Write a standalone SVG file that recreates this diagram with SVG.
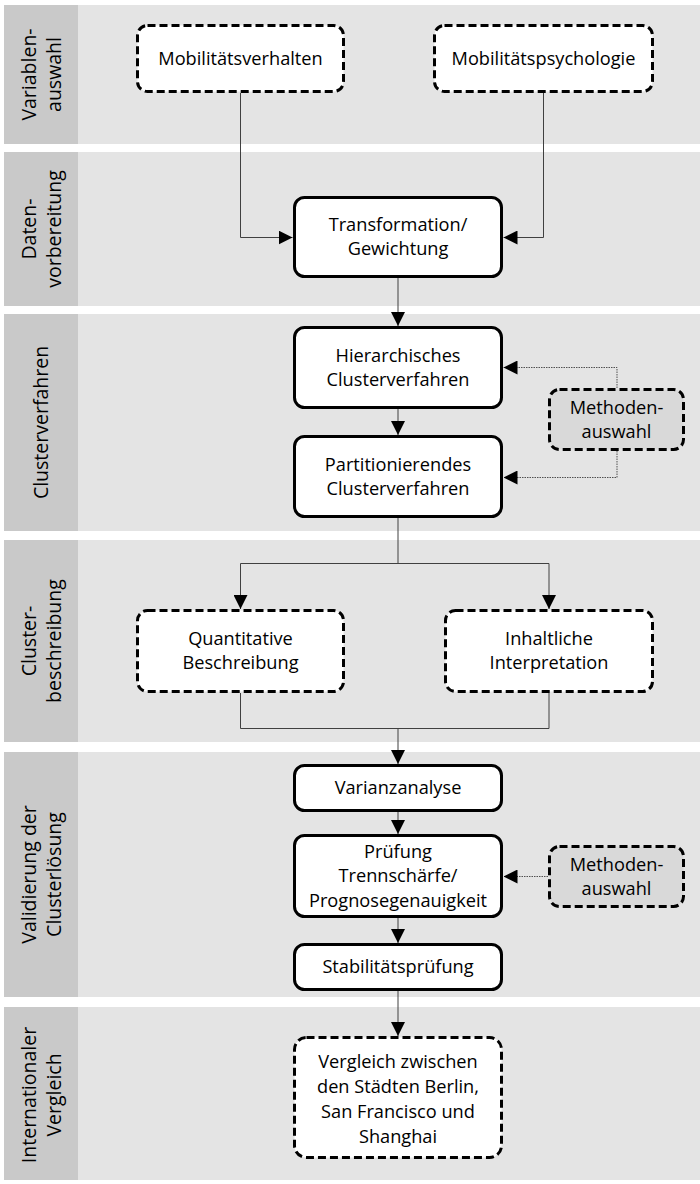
<svg xmlns="http://www.w3.org/2000/svg" width="700" height="1184" viewBox="0 0 700 1184">
<style>
.lane{fill:#e4e4e4}
.strip{fill:#c9c9c9}
.lbl{font-family:"Open Sans","Liberation Sans",sans-serif;font-size:19.5px;fill:#000;text-anchor:middle}
.t{font-family:"Open Sans","Liberation Sans",sans-serif;font-size:18.2px;fill:#000;text-anchor:middle}
.solid{fill:#fff;stroke:#000;stroke-width:3}
.dash{fill:#fff;stroke:#000;stroke-width:3;stroke-dasharray:8 4}
.meth{fill:#d9d9d9;stroke:#000;stroke-width:3;stroke-dasharray:8 4}
.c{fill:none;stroke:#404040;stroke-width:1}
.d{fill:none;stroke:#505050;stroke-width:1;stroke-dasharray:1.5 1}
</style>
<defs>
<marker id="ah" markerUnits="userSpaceOnUse" markerWidth="14" markerHeight="14" refX="14" refY="7" orient="auto">
<path d="M0,0 L14,7 L0,14 z" fill="#000"/>
</marker>
</defs>
<g id="lanes">
<rect class="lane" x="4" y="5" width="696" height="139"/><rect class="strip" x="4" y="5" width="74" height="139"/>
<rect class="lane" x="4" y="152" width="696" height="154"/><rect class="strip" x="4" y="152" width="74" height="154"/>
<rect class="lane" x="4" y="314" width="696" height="217"/><rect class="strip" x="4" y="314" width="74" height="217"/>
<rect class="lane" x="4" y="540" width="696" height="202"/><rect class="strip" x="4" y="540" width="74" height="202"/>
<rect class="lane" x="4" y="752" width="696" height="245"/><rect class="strip" x="4" y="752" width="74" height="245"/>
<rect class="lane" x="4" y="1007" width="696" height="173"/><rect class="strip" x="4" y="1007" width="74" height="173"/>
<g transform="translate(41,74.5) rotate(-90)"><text class="lbl" y="-5">Variablen-</text><text class="lbl" y="20">auswahl</text></g>
<g transform="translate(41,229) rotate(-90)"><text class="lbl" y="-5">Daten-</text><text class="lbl" y="20">vorbereitung</text></g>
<g transform="translate(41,422.5) rotate(-90)"><text class="lbl" y="7">Clusterverfahren</text></g>
<g transform="translate(41,641) rotate(-90)"><text class="lbl" y="-5">Cluster-</text><text class="lbl" y="20">beschreibung</text></g>
<g transform="translate(41,874.5) rotate(-90)"><text class="lbl" y="-5">Validierung der</text><text class="lbl" y="20">Clusterlösung</text></g>
<g transform="translate(41,1095) rotate(-90)"><text class="lbl" y="-5">Internationaler</text><text class="lbl" y="20">Vergleich</text></g>
</g>
<g id="connectors">
<path class="c" d="M240.5,93 V237.5 H292.5" marker-end="url(#ah)"/>
<path class="c" d="M543.5,93 V237.5 H503.5" marker-end="url(#ah)"/>
<path class="c" d="M398,278 V326" marker-end="url(#ah)"/>
<path class="c" d="M398,409 V435" marker-end="url(#ah)"/>
<path class="d" d="M617,388 V367.5 H503.5" marker-end="url(#ah)"/>
<path class="d" d="M617,451 V477.5 H503.5" marker-end="url(#ah)"/>
<path class="c" d="M398,518 V563.5 H240.5 V609" marker-end="url(#ah)"/>
<path class="c" d="M398,563.5 H549 V609" marker-end="url(#ah)"/>
<path class="c" d="M240.5,693 V728.5 H549 V693"/>
<path class="c" d="M398,728.5 V764" marker-end="url(#ah)"/>
<path class="c" d="M398,812 V834" marker-end="url(#ah)"/>
<path class="d" d="M548,876.5 H503.5" marker-end="url(#ah)"/>
<path class="c" d="M398,918 V943" marker-end="url(#ah)"/>
<path class="c" d="M398,991 V1036" marker-end="url(#ah)"/>
</g>
<g id="n-mobverhalten"><rect class="dash" x="137.5" y="25.5" width="206" height="66" rx="10"/><text class="t" x="240.5" y="65">Mobilitätsverhalten</text></g>
<g id="n-mobpsych"><rect class="dash" x="434.5" y="25.5" width="218" height="66" rx="10"/><text class="t" x="543.5" y="65">Mobilitätspsychologie</text></g>
<g id="n-transformation"><rect class="solid" x="294.5" y="197.5" width="207" height="79" rx="10"/><text class="t" x="398" y="231">Transformation/</text><text class="t" x="398" y="255">Gewichtung</text></g>
<g id="n-hierarchisch"><rect class="solid" x="294.5" y="327.5" width="207" height="80" rx="10"/><text class="t" x="398" y="362">Hierarchisches</text><text class="t" x="398" y="386">Clusterverfahren</text></g>
<g id="n-methoden1"><rect class="meth" x="549.5" y="389.5" width="134" height="60" rx="10"/><text class="t" x="616.5" y="414">Methoden-</text><text class="t" x="616.5" y="438">auswahl</text></g>
<g id="n-partitionierend"><rect class="solid" x="294.5" y="436.5" width="207" height="80" rx="10"/><text class="t" x="398" y="471">Partitionierendes</text><text class="t" x="398" y="495">Clusterverfahren</text></g>
<g id="n-quantitativ"><rect class="dash" x="137.5" y="610.5" width="206" height="81" rx="10"/><text class="t" x="240.5" y="645">Quantitative</text><text class="t" x="240.5" y="669">Beschreibung</text></g>
<g id="n-inhaltlich"><rect class="dash" x="445.5" y="610.5" width="207" height="81" rx="10"/><text class="t" x="549" y="645">Inhaltliche</text><text class="t" x="549" y="669">Interpretation</text></g>
<g id="n-varianz"><rect class="solid" x="294.5" y="765.5" width="207" height="45" rx="10"/><text class="t" x="398" y="794">Varianzanalyse</text></g>
<g id="n-pruefung"><rect class="solid" x="294.5" y="835.5" width="207" height="81" rx="10"/><text class="t" x="398" y="858">Prüfung</text><text class="t" x="398" y="882">Trennschärfe/</text><text class="t" x="398" y="907">Prognosegenauigkeit</text></g>
<g id="n-methoden2"><rect class="meth" x="549.5" y="846.5" width="134" height="60" rx="10"/><text class="t" x="616.5" y="871">Methoden-</text><text class="t" x="616.5" y="895">auswahl</text></g>
<g id="n-stabilitaet"><rect class="solid" x="294.5" y="944.5" width="207" height="45" rx="10"/><text class="t" x="398" y="973">Stabilitätsprüfung</text></g>
<g id="n-vergleich"><rect class="dash" x="294.5" y="1037.5" width="207" height="120" rx="12"/><text class="t" x="398" y="1068">Vergleich zwischen</text><text class="t" x="398" y="1093">den Städten Berlin,</text><text class="t" x="398" y="1118">San Francisco und</text><text class="t" x="398" y="1143">Shanghai</text></g>
</svg>
